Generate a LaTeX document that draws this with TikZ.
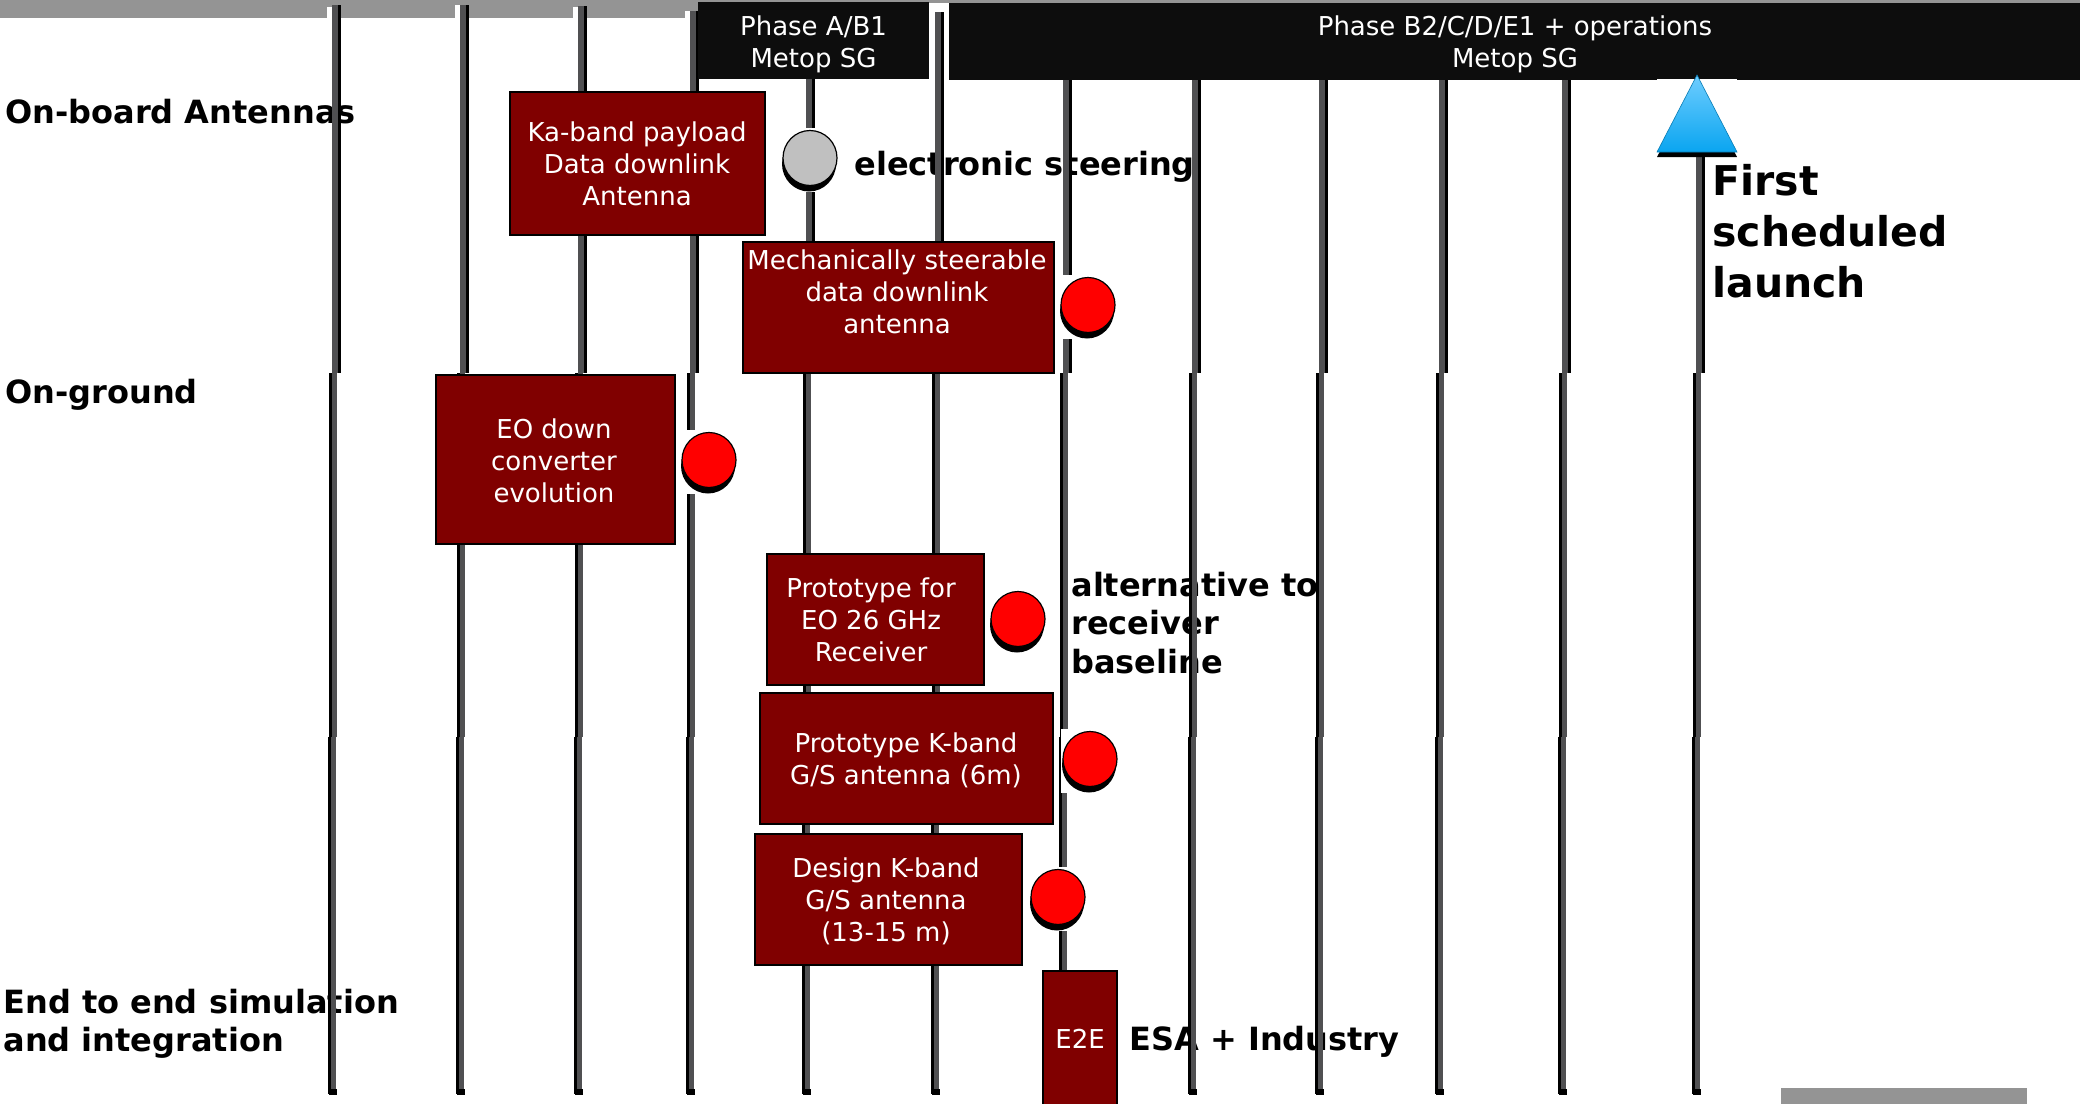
\documentclass[tikz,border=0pt]{standalone}
\usepackage{fontspec}
\setmainfont{DejaVu Sans}
\usetikzlibrary{shapes.geometric,shadows}
\definecolor{boxred}{RGB}{128,0,0}
\definecolor{linegray}{RGB}{80,80,82}
\definecolor{bargray}{RGB}{148,148,148}
\definecolor{phaseblack}{RGB}{13,13,13}
\definecolor{dotred}{RGB}{255,0,0}
\definecolor{dotgray}{RGB}{192,192,192}
\definecolor{triTop}{RGB}{110,205,255}
\definecolor{triBot}{RGB}{10,165,240}
\begin{document}
\begin{tikzpicture}[x=0.5pt,y=-0.5pt,
  vgray/.style={line width=2.7pt, draw=linegray},
  vedge/.style={line width=1.3pt, draw=black},
  taskbox/.style={draw=black, line width=1pt, fill=boxred, inner sep=0pt},
  phasebox/.style={fill=phaseblack, inner sep=0pt},
  wtext/.style={text=white, inner sep=0pt, align=center, font=\fontsize{13}{16}\selectfont},
  btext/.style={text=black, inner sep=0pt, align=left, font=\fontsize{16}{19.25}\selectfont\bfseries},
  dot/.style={ellipse, minimum width=27pt, minimum height=27.5pt, inner sep=0pt, draw=black, line width=0.6pt,
    drop shadow={opacity=1, fill=black, shadow xshift=-0.5pt, shadow yshift=-3pt}},
]
\useasboundingbox (0,0) rectangle (2080,1103);

% grey bars
\fill[bargray] (0,0) rectangle (2080,3);
\fill[bargray] (0,0) rectangle (698,18);
\fill[bargray] (1781,1088) rectangle (2027,1110);

% row labels (drawn below the grid lines)
\node[btext, anchor=base west] (lblboard) at (5,123) {On-board Antennas};
\node[btext, anchor=base west] (lblground) at (5,403) {On-ground};
\node[btext, anchor=north west, font=\fontsize{16}{19}\selectfont\bfseries] (lblend) at (3,988.7) {End to end simulation\\and integration};
\node[btext, anchor=base west] (lblsteer) at (854,175) {electronic steering};
\node[btext, anchor=north west] (lblalt) at (1071,571.7) {alternative to\\receiver\\baseline};
\node[btext, anchor=base west] (lblesa) at (1129,1050) {ESA + Industry};
\node[btext, anchor=north west, font=\fontsize{20.5}{25.5}\selectfont\bfseries] (lbllaunch) at (1712,163.8) {First\\scheduled\\launch};

% vertical grid lines (three slightly offset segments each)
\foreach \x/\t in {336/5,464/5,582/6,694/11,810/79,939/12,1067/80,1196/80,1323/80,1443/80,1566/80,1700/157}{
  \draw[vgray] (\x-1,\t) -- (\x-1,373);
  \draw[vedge] (\x+3.2,\t) -- (\x+3.2,373);
  \draw[vgray] (\x-1.5,373) -- (\x-1.5,737);
  \draw[vedge] (\x-5.3,373) -- (\x-5.3,737);
  \draw[vgray] (\x-3,737) -- (\x-3,1094);
  \draw[vedge] (\x-6.8,737) -- (\x-6.8,1094);
  \fill[black] (\x-7.5,1089) rectangle (\x+0.5,1095);
}
\foreach \x/\t in {336/7,464/5,582/7,694/11}{
  \fill[white] (\x-9,\t) rectangle (\x-4,18);
}

% phase header boxes
\node[phasebox, minimum width=115.5pt, minimum height=38.5pt] (phaseA) at (813.5,40.5) {};
\node[wtext] (phaseAT) at (813.5,44) {Phase A/B1\\Metop SG};
\node[phasebox, minimum width=570.5pt, minimum height=38.5pt] (phaseB) at (1519.5,41.5) {};
\node[wtext] (phaseBT) at (1515,44) {Phase B2/C/D/E1 + operations\\Metop SG};

% launch marker
\fill[white] (1657,79) rectangle (1737,157);
\fill[black] (1697,81) -- (1737,157) -- (1657,157) -- cycle;
\shade[top color=triTop, bottom color=triBot] (1697,75) -- (1737,152) -- (1657,152) -- cycle;
\draw[triBot!75!black, line width=0.3pt] (1697,75) -- (1737,152) -- (1657,152) -- cycle;

% task boxes
\node[taskbox, minimum width=127.5pt, minimum height=71.5pt] (ka) at (637.5,163.5) {};
\node[wtext] (kaT) at (637,164) {Ka-band payload\\Data downlink\\Antenna};
\node[taskbox, minimum width=155.5pt, minimum height=65.5pt] (mech) at (898.5,307.5) {};
\node[wtext] (mechT) at (897,292) {Mechanically steerable\\data downlink\\antenna};
\node[taskbox, minimum width=119.5pt, minimum height=84.5pt] (eo) at (555.5,459.5) {};
\node[wtext] (eoT) at (554,461) {EO down\\converter\\evolution};
\node[taskbox, minimum width=108.5pt, minimum height=65.5pt] (ptt) at (875.5,619.5) {};
\node[wtext] (pttT) at (871,620) {Prototype for\\EO 26 GHz\\Receiver};
\node[taskbox, minimum width=146.5pt, minimum height=65.5pt] (pk) at (906.5,758.5) {};
\node[wtext] (pkT) at (906,760) {Prototype K-band\\G/S antenna (6m)};
\node[taskbox, minimum width=133.5pt, minimum height=65.5pt] (des) at (888,899.5) {};
\node[wtext] (desT) at (886,901) {Design K-band\\G/S antenna\\(13-15 m)};
\node[taskbox, minimum width=37pt, minimum height=70pt] (e2e) at (1080,1041) {};
\node[wtext] (e2eT) at (1080,1038.5) {E2E};

% status dots
\foreach \cx/\cy in {810/158,1088/305,709/460,1018/619,1090/759,1058/897}{
  \fill[white] (\cx-29,\cy-30) rectangle (\cx+29,\cy+34);
}
\node[dot, fill=dotgray] (dsteer) at (810,158) {};
\node[dot, fill=dotred] (dmech) at (1088,305) {};
\node[dot, fill=dotred] (deo) at (709,460) {};
\node[dot, fill=dotred] (dptt) at (1018,619) {};
\node[dot, fill=dotred] (dpk) at (1090,759) {};
\node[dot, fill=dotred] (ddes) at (1058,897) {};
\end{tikzpicture}
\end{document}
